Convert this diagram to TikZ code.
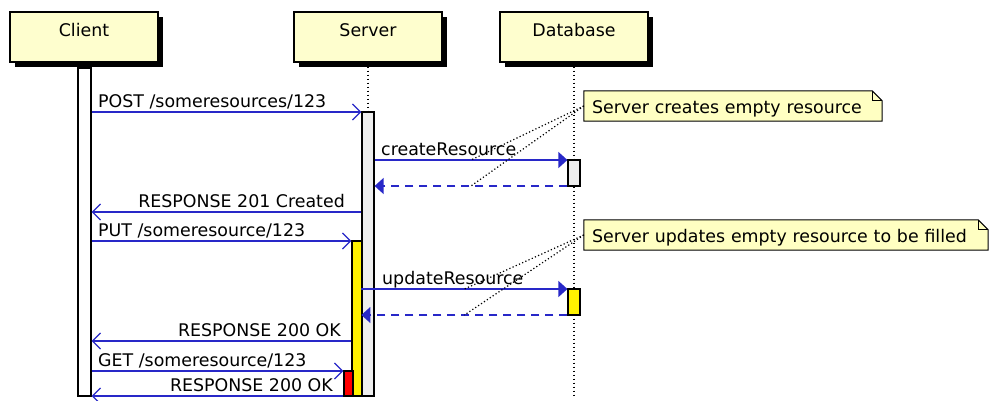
\documentclass[tikz,border=0pt]{standalone}
\usepackage{fontspec}
\setmainfont{DejaVu Sans}
\usetikzlibrary{arrows.meta,shadows,backgrounds}
\definecolor{partfill}{HTML}{FEFECE}
\definecolor{notefill}{HTML}{FFFFC2}
\definecolor{msgblue}{RGB}{40,40,200}
\definecolor{actgray}{HTML}{EEEEEE}
\begin{document}
\begin{tikzpicture}[x=1pt,y=-1pt,
  font=\fontsize{17.4}{20}\selectfont,
  part/.style={draw=black, fill=partfill, line width=1.2pt, minimum width=148pt,
    minimum height=50pt, inner sep=0pt, text height=13pt, text depth=15pt,
    general shadow={fill=black, shadow xshift=5pt, shadow yshift=-5pt}},
  life/.style={draw=black, line width=1.3pt, dash pattern=on 1.5pt off 2.5pt},
  bar/.style={draw=black, line width=1.2pt, inner sep=0pt},
  msg/.style={draw=msgblue, line width=1.3pt},
  open/.style={msg, -{Straight Barb[length=8pt,width=16pt]}},
  fillhead/.style={msg, -{Triangle[length=9pt,width=16pt]}},
  ret/.style={fillhead, dash pattern=on 8pt off 6pt},
  lbl/.style={inner sep=0pt, anchor=base west},
  lblr/.style={inner sep=0pt, anchor=base east},
  note/.style={inner xsep=8pt, inner ysep=0pt, align=left, minimum height=30pt,
    text height=16pt, text depth=2pt},
  noteshape/.style={draw=black, fill=notefill, line width=1pt},
  notelink/.style={draw=black, line width=1.2pt, dash pattern=on 1.2pt off 2.3pt}]
\useasboundingbox (0,0) rectangle (990,400);

% participants
\node[part, line width=2pt] (cl) at (84,37) {Client};
\node[part] (sv) at (368,37) {Server};
\node[part] (db) at (574,37) {Database};

% lifelines
\draw[life] (cl.south) -- (cl.south |- 0,396);
\draw[life] (sv.south) -- (sv.south |- 0,396);
\draw[life] (db.south) -- (db.south |- 0,396);

% activation bars
\node[bar, fill=white, minimum width=13pt, minimum height=328pt] (actC) at (84.5,232) {};
\node[bar, fill=actgray, minimum width=12pt, minimum height=284pt] (actS) at (368,254) {};
\node[bar, fill=yellow, minimum width=10pt, minimum height=155pt] (actS2) at (357,318.5) {};
\node[bar, fill=red, minimum width=9pt, minimum height=25pt] (actS3) at (348.5,383.5) {};
\node[bar, fill=actgray, minimum width=12pt, minimum height=26pt] (actD1) at (574,173) {};
\node[bar, fill=yellow, minimum width=12pt, minimum height=26pt] (actD2) at (574,302) {};

% messages
\draw[open] (actC.east |- 0,112) -- (actS.west |- 0,112);
\node[lbl] (l1) at (98,107) {POST /someresources/123};

\draw[fillhead] (actS.east |- 0,160) -- coordinate[pos=0.5] (m2) (actD1.west |- 0,160);
\node[lbl] (l2) at (381,155) {createResource};

\draw[ret] (actD1.west |- 0,186) -- coordinate[pos=0.5] (m3) (actS.east |- 0,186);

\draw[open] (actS.west |- 0,212) -- (actC.east |- 0,212);
\node[lblr] (l4) at (345,207) {RESPONSE 201 Created};

\draw[open] (actC.east |- 0,241) -- (actS2.west |- 0,241);
\node[lbl] (l5) at (98,236) {PUT /someresource/123};

\draw[fillhead] (actS.west |- 0,289) -- coordinate[pos=0.5] (m6) (actD2.west |- 0,289);
\node[lbl] (l6) at (382,284) {updateResource};

\draw[ret] (actD2.west |- 0,315) -- coordinate[pos=0.5] (m7) (actS.west |- 0,315);

\draw[open] (actS2.west |- 0,341) -- (actC.east |- 0,341);
\node[lblr] (l8) at (341,336) {RESPONSE 200 OK};

\draw[open] (actC.east |- 0,371) -- (actS3.west |- 0,371);
\node[lbl] (l9) at (98,366) {GET /someresource/123};

\draw[open] (actS3.west |- 0,396) -- (actC.east |- 0,396);
\node[lblr] (l10) at (333,391) {RESPONSE 200 OK};

% notes
\node[note, minimum width=298pt, text width=282pt] (n1) at (733,106) {Server creates empty resource};
\node[note, minimum width=404pt, text width=388pt] (n2) at (786,235) {Server updates empty resource to be filled};
\begin{scope}[on background layer]
\foreach \n in {n1,n2}{
  \filldraw[noteshape] (\n.north west) -- ([xshift=-10pt]\n.north east)
    -- ([yshift=-10pt]\n.north east) -- (\n.south east) -- (\n.south west) -- cycle;
  \draw[noteshape, fill=none] ([xshift=-10pt]\n.north east) -- ([xshift=-10pt,yshift=-10pt]\n.north east)
    -- ([yshift=-10pt]\n.north east);
}
\end{scope}
\draw[notelink] (n1.west) -- (m2);
\draw[notelink] (n1.west) -- (m3);
\draw[notelink] (n2.west) -- (m6);
\draw[notelink] (n2.west) -- (m7);
\end{tikzpicture}
\end{document}
